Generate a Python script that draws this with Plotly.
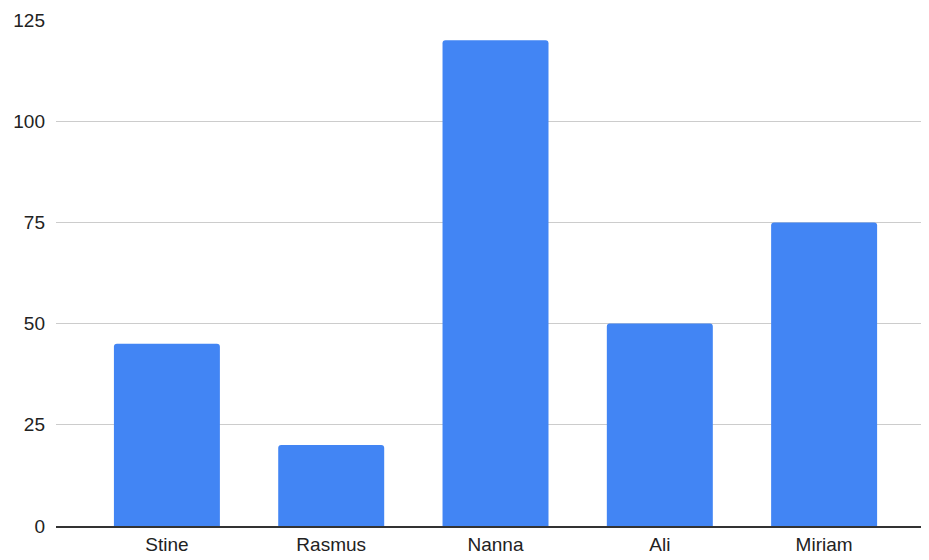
import plotly.graph_objects as go

names = ["Stine", "Rasmus", "Nanna", "Ali", "Miriam"]
values = [45, 20, 120, 50, 75]
y_ticks = [0, 25, 50, 75, 100, 125]

fig = go.Figure(go.Bar(
    x=list(range(len(names))), y=values,
    marker=dict(color="#4285F4", cornerradius=3, line=dict(width=0)),
    width=0.645,
))
fig.update_layout(
    width=929, height=552,
    margin=dict(l=48, r=0, t=12, b=34),
    paper_bgcolor="white", plot_bgcolor="white",
    font=dict(family="Liberation Sans, Arial, sans-serif", size=19, color="#222222"),
    showlegend=False,
)
fig.update_xaxes(
    tickmode="array", tickvals=list(range(len(names))), ticktext=names,
    range=[-0.675, 4.687], showgrid=False, showline=True, linecolor="#333333", linewidth=1.5,
    ticks="", ticklabelstandoff=0, zeroline=False,
)
fig.update_yaxes(
    range=[0, 125], tickvals=y_ticks, showgrid=True, gridcolor="#cccccc", gridwidth=1,
    zeroline=False, showline=False, ticks="", ticklabelstandoff=10,
)
fig.write_html("out.html")
